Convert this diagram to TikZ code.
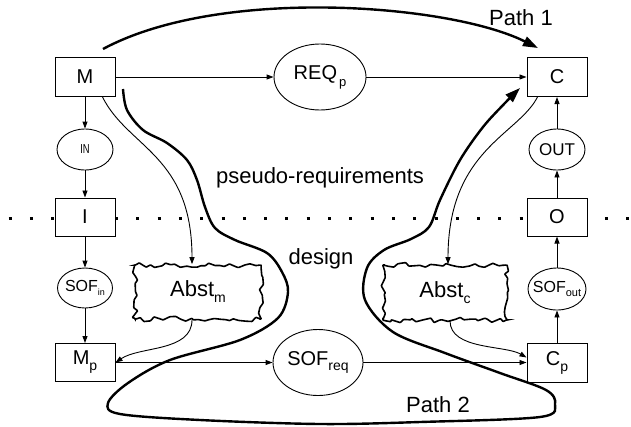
\documentclass[tikz,border=0pt]{standalone}
\usepackage{graphicx}
\usepackage{fontspec}
\setmainfont{Liberation Sans}
\usetikzlibrary{arrows.meta,shapes.geometric,decorations.pathmorphing,calc}
% lowered, smaller index text: #1 drop, #2 font size, #3 text
\newcommand\lowsub[3]{\raisebox{-#1}{\fontsize{#2}{#2}\selectfont #3}}
\begin{document}
\begin{tikzpicture}[x=1pt,y=-1pt,
  box/.style={draw, fill=white, line width=1pt, minimum width=60pt, minimum height=39pt,
    inner sep=0pt, font=\fontsize{20}{20}\selectfont},
  oval/.style={draw, fill=white, ellipse, line width=0.9pt, inner sep=0pt},
  cloudbox/.style={draw, fill=white, line width=1.6pt, inner sep=0pt, decorate,
    decoration={random steps, segment length=5pt, amplitude=2.6pt},
    rounded corners=0.5pt, font=\fontsize{22}{22}\selectfont},
  link/.style={-{Triangle[length=7pt,width=5pt]}, line width=0.9pt},
  route/.style={line width=2.4pt, -{Triangle[length=15pt,width=10pt]}},
  lbl/.style={font=\fontsize{22}{22}\selectfont, inner sep=0pt}]
\useasboundingbox (0,0) rectangle (631,426);
\pgfmathsetseed{7}

% boundary between requirements and design
\draw[line width=3pt, dash pattern=on 3pt off 18.3pt] (8.5,218.5) -- (631,218.5);

% left column
\node[box] (M) at (85,77) {M};
\node[oval, minimum width=56pt, minimum height=41pt] (IN) at (85,149.5)
  {\makebox[0pt]{\fontsize{13}{13}\selectfont\scalebox{0.72}[1]{IN}}};
\node[box, minimum height=38pt] (I) at (85,217) {I};
\node[oval, minimum width=55pt, minimum height=40pt] (SOFin) at (85,288)
  {\makebox[0pt]{\fontsize{16}{16}\selectfont SOF\lowsub{4pt}{9}{in}}};
\node[box, minimum height=38pt] (Mp) at (85,362.5) {M\lowsub{6pt}{14}{p}};

% middle
\node[oval, minimum width=92pt, minimum height=66pt] (REQp) at (320,77)
  {\makebox[0pt]{\fontsize{20}{20}\selectfont REQ\kern2pt\lowsub{7pt}{13}{p}}};
\node[oval, minimum width=90pt, minimum height=66pt] (SOFreq) at (318,362.5)
  {\makebox[0pt]{\fontsize{20}{20}\selectfont SOF\lowsub{5pt}{14}{req}}};
\node[cloudbox, minimum width=126pt, minimum height=54pt] (Absm) at (198,292)
  {Abst\lowsub{6pt}{14}{m}};
\node[cloudbox, minimum width=124pt, minimum height=55pt] (Absc) at (445,292.5)
  {Abst\lowsub{6pt}{14}{c}};

% right column
\node[box] (C) at (557,77) {C};
\node[oval, minimum width=56pt, minimum height=41pt] (OUT) at (557,149.5)
  {\makebox[0pt]{\fontsize{17}{17}\selectfont OUT}};
\node[box, minimum height=38pt] (O) at (557,217) {O};
\node[oval, minimum width=58pt, minimum height=42pt] (SOFout) at (557,289)
  {\makebox[0pt]{\fontsize{16}{16}\selectfont SOF\lowsub{4pt}{11}{out}}};
\node[box] (Cp) at (557,362.5) {C\lowsub{6pt}{14}{p}};

% text labels
\node[lbl] (t1) at (521,18) {Path 1};
\node[lbl] (t2) at (438,405) {Path 2};
\node[lbl, anchor=base] (t3) at (320,183) {pseudo-requirements};
\node[lbl, anchor=base] (t4) at (321,264) {design};

% straight links
\draw[link] (M) -- (REQp);
\draw[link] (REQp) -- (C);
\draw[link] (M) -- (IN);
\draw[link] (IN) -- (I);
\draw[link] (I) -- (SOFin);
\draw[link] (SOFin) -- (Mp);
\draw[link] (Mp) -- (SOFreq);
\draw[link] (SOFreq) -- (Cp);
\draw[link] (Cp) -- (SOFout);
\draw[link] (SOFout) -- (O);
\draw[link] (O) -- (OUT);
\draw[link] (OUT) -- (C);

% abstraction links
\draw[link] ([xshift=-13pt]M.south east) .. controls (128,148) and (192,155) .. ([xshift=-6pt]Absm.north);
\draw[link] ([xshift=11pt]C.south west) .. controls (518,135) and (448,150) .. ([xshift=3pt]Absc.north);
\draw[link] ([xshift=-6pt]Absm.south) .. controls (192,352) and (140,346) .. (Mp.east);
\draw[link] ([xshift=5pt]Absc.south) .. controls (450,350) and (505,345) .. ([yshift=5pt]Cp.west);

% Path 1
\coordinate (p1s) at (103,49);
\coordinate (p1e) at (538,48);
\draw[route] (p1s) .. controls (220,-14) and (450,4) .. (p1e);

% Path 2
\draw[route] plot[smooth, tension=0.55] coordinates {
  (123,89) (127,110) (143,130) (167,143) (187,160) (197,180) (205,207) (215,228)
  (235,240) (267,253) (282,272) (288,292) (278,318) (240,340) (170,360) (128,383)
  (108,403) (120,414) (200,420) (320,424) (420,422) (540,417) (555,404) (546,390)
  (500,373) (445,353) (393,332) (365,300) (367,268) (384,250) (411,239) (429,227)
  (440,200) (460,160) (483,127) (505,103) (520,88)};
\end{tikzpicture}
\end{document}
